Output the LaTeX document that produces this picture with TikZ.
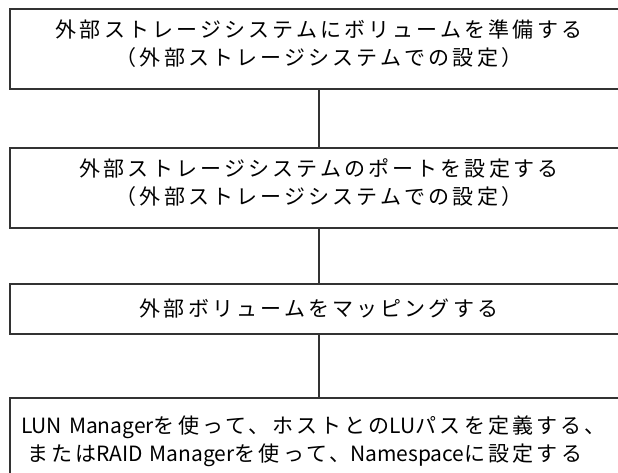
\documentclass[tikz,border=0pt]{standalone}
\usepackage{fontspec}
\setmainfont{Noto Sans CJK JP}[LetterSpace=15]
\newfontfamily\latinfont{Noto Sans CJK JP}
\newcommand{\hw}[1]{{\latinfont#1}}
\usetikzlibrary{positioning}

\tikzset{
	stepbox/.style={rectangle, draw=black!80, line width=1.6pt,
		minimum width=618pt, minimum height=80pt, align=center,
		font=\fontsize{21}{28}\selectfont},
	twolines/.style={text height=36pt, text depth=4pt},
	flow/.style={draw=black!80, line width=1.6pt}
}

\begin{document}
\begin{tikzpicture}[x=1pt,y=-1pt]
		\useasboundingbox (0,0) rectangle (618,473);
		
		\node[stepbox, twolines] (S1) at (319,49.25) {外部ストレージシステムにボリュームを準備する\\（外部ストレージシステムでの設定）};
		\node[stepbox, twolines] (S2) [below of=S1, node distance=139pt] {外部ストレージシステムのポートを設定する\\（外部ストレージシステムでの設定）};
		\node[stepbox, minimum height=50pt] (S3) [below of=S2, node distance=120.75pt] {外部ボリュームをマッピングする};
		\node[stepbox, align=left, text width=596pt] (S4) [below of=S3, node distance=129pt] {\rule{0pt}{24pt}\hw{LUN Manager}を使って、ホストとの\hw{LU}パスを定義する、\\\hspace*{6pt}または\hw{RAID Manager}を使って、\hw{Namespace}に設定する};
		
		\draw[flow] (S1) -- (S2) (S2) -- (S3) (S3) -- (S4);
		
	\end{tikzpicture}
\end{document}
